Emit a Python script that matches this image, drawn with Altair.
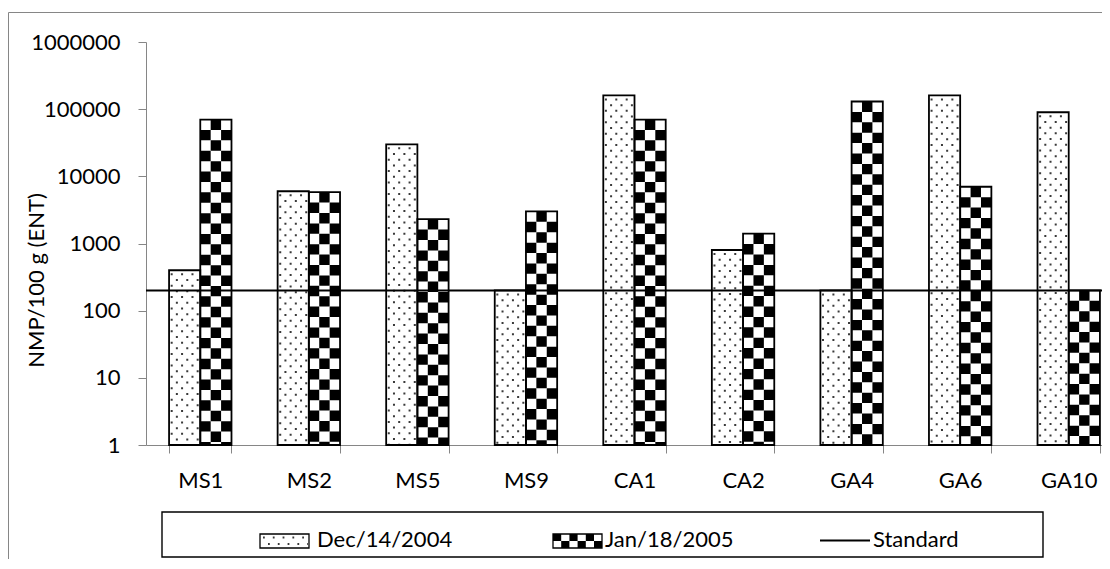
import altair as alt
import pandas as pd

categories = ["MS1", "MS2", "MS5", "MS9", "CA1", "CA2", "GA4", "GA6", "GA10"]
dec_values = [400, 6000, 30000, 200, 160000, 800, 200, 160000, 90000]
jan_values = [70000, 5800, 2300, 3000, 70000, 1400, 130000, 7000, 200]
series_names = ["Dec/14/2004", "Jan/18/2005"]
standard_values = [200]
y_ticks = [1, 10, 100, 1000, 10000, 100000, 1000000]
legend_labels = ["Dec/14/2004", "Jan/18/2005", "Standard"]

AXIS_GRAY = "#868686"
FONT = "Lato"
FS = 22

bars_df = pd.DataFrame({
    "cat": categories * 2,
    "series": [series_names[0]] * len(categories) + [series_names[1]] * len(categories),
    "value": dec_values + jan_values,
})

# pattern helper tables (one row per bar and pattern column)
dot_subs = [f"d{i}" for i in range(12)]
dot_rows = []
for c, v in zip(categories, dec_values):
    for i in range(6):
        dot_rows.append({"cat": c, "value": v, "sub": f"d{i}", "row": "A" if i % 2 == 0 else "B"})
dots_df = pd.DataFrame(dot_rows)

chk_subs = [f"c{i}" for i in range(6)]
chk_rows = []
for c, v in zip(categories, jan_values):
    for i in range(3):
        chk_rows.append({"cat": c, "value": v, "sub": f"c{i + 3}", "phase": "mid" if i == 1 else "side"})
chk_df = pd.DataFrame(chk_rows)

std_df = pd.DataFrame({"value": standard_values})
legend_df = pd.DataFrame({"label": legend_labels})

x_enc = alt.X(
    "cat:N",
    sort=categories,
    scale=alt.Scale(domain=categories, range=[0, 977], paddingInner=0.425, paddingOuter=0.2125),
    axis=alt.Axis(
        title=None, tickBand="extent", tickSize=8, tickColor=AXIS_GRAY, domainColor=AXIS_GRAY,
        labelAngle=0, labelFontSize=FS, labelFont=FONT, labelColor="black", labelPadding=17,
        grid=False,
    ),
)
y_enc = alt.Y(
    "value:Q",
    scale=alt.Scale(type="log", domain=[1, 1000000], nice=False),
    axis=alt.Axis(
        values=y_ticks, format="d", tickSize=8, tickColor=AXIS_GRAY, domainColor=AXIS_GRAY,
        labelFontSize=FS, labelFont=FONT, labelColor="black", labelPadding=18, grid=False,
        title="NMP/100 g (ENT)", titleFontSize=FS, titleFont=FONT, titleFontWeight="normal",
        titleColor="black", titleX=-110, titleY=238, titleAngle=270, titleAlign="center",
        titleBaseline="middle",
    ),
)
xo_series = alt.XOffset("series:N", scale=alt.Scale(domain=series_names, paddingInner=0, paddingOuter=0))
xo_dots = alt.XOffset("sub:N", scale=alt.Scale(domain=dot_subs, paddingInner=0, paddingOuter=0))
xo_chk = alt.XOffset("sub:N", scale=alt.Scale(domain=chk_subs, paddingInner=0, paddingOuter=0))

base_bars = alt.Chart(bars_df).mark_bar(fill="white", strokeWidth=0).encode(
    x=x_enc, xOffset=xo_series, y=y_enc, y2=alt.datum(1)
)

dots_a = alt.Chart(dots_df).transform_filter(alt.datum.row == "A").mark_rule(
    color="#3a3a3a", strokeWidth=2, strokeDash=[2, 9.4], strokeDashOffset=8.4
).encode(x=x_enc, xOffset=xo_dots, y=y_enc, y2=alt.datum(1))
dots_b = alt.Chart(dots_df).transform_filter(alt.datum.row == "B").mark_rule(
    color="#3a3a3a", strokeWidth=2, strokeDash=[2, 9.4], strokeDashOffset=2.7
).encode(x=x_enc, xOffset=xo_dots, y=y_enc, y2=alt.datum(1))

chk_side = alt.Chart(chk_df).transform_filter(alt.datum.phase == "side").mark_rule(
    color="black", strokeWidth=10.4, strokeDash=[10.4, 10.4], strokeDashOffset=10.4
).encode(x=x_enc, xOffset=xo_chk, y=y_enc, y2=alt.datum(1))
chk_mid = alt.Chart(chk_df).transform_filter(alt.datum.phase == "mid").mark_rule(
    color="black", strokeWidth=10.4, strokeDash=[10.4, 10.4], strokeDashOffset=0
).encode(x=x_enc, xOffset=xo_chk, y=y_enc, y2=alt.datum(1))

outline = alt.Chart(bars_df).mark_bar(fill="transparent", stroke="black", strokeWidth=1.8).encode(
    x=x_enc, xOffset=xo_series, y=y_enc, y2=alt.datum(1)
)

std_rule = alt.Chart(std_df).mark_rule(color="black", strokeWidth=2).encode(y=y_enc)

# ---- legend (drawn below the plot, inside a framed box) ----
lg = alt.Chart(legend_df)

def one(label):
    return lg.transform_filter(alt.datum.label == label)

lg_box = one(legend_labels[2]).mark_rect(
    fill="white", stroke="black", strokeWidth=1.4
).encode(x=alt.value(16), x2=alt.value(897), y=alt.value(470), y2=alt.value(515))

lg_dec_sw = one(legend_labels[0]).mark_rect(fill="white", stroke="black", strokeWidth=1.3).encode(
    x=alt.value(114), x2=alt.value(163), y=alt.value(492), y2=alt.value(506))
lg_dec_d1 = one(legend_labels[0]).mark_rule(color="#3a3a3a", strokeWidth=1.8, strokeDash=[1.8, 8]).encode(
    x=alt.value(117), x2=alt.value(162), y=alt.value(495.5))
lg_dec_d2 = one(legend_labels[0]).mark_rule(color="#3a3a3a", strokeWidth=1.8, strokeDash=[1.8, 8]).encode(
    x=alt.value(122), x2=alt.value(162), y=alt.value(502))
lg_dec_tx = one(legend_labels[0]).mark_text(align="left", baseline="middle", fontSize=FS, font=FONT, color="black").encode(
    x=alt.value(171), y=alt.value(498), text="label:N")

lg_jan_sw = one(legend_labels[1]).mark_rect(fill="white", stroke="black", strokeWidth=1.3).encode(
    x=alt.value(407), x2=alt.value(456), y=alt.value(492), y2=alt.value(506))
lg_jan_r1 = one(legend_labels[1]).mark_rule(color="black", strokeWidth=7, strokeDash=[8.2, 8.2]).encode(
    x=alt.value(407), x2=alt.value(456), y=alt.value(495.5))
lg_jan_r2 = one(legend_labels[1]).mark_rule(color="black", strokeWidth=7, strokeDash=[8.2, 8.2], strokeDashOffset=8.2).encode(
    x=alt.value(407), x2=alt.value(456), y=alt.value(502.5))
lg_jan_tx = one(legend_labels[1]).mark_text(align="left", baseline="middle", fontSize=FS, font=FONT, color="black").encode(
    x=alt.value(459), y=alt.value(498), text="label:N")

lg_std_ln = one(legend_labels[2]).mark_rule(color="black", strokeWidth=2).encode(
    x=alt.value(674), x2=alt.value(724), y=alt.value(498.5))
lg_std_tx = one(legend_labels[2]).mark_text(align="left", baseline="middle", fontSize=FS, font=FONT, color="black").encode(
    x=alt.value(727), y=alt.value(498), text="label:N")

# outer chart frame (cropped at right and bottom like the reference)
frame_top = one(legend_labels[2]).mark_rule(color=AXIS_GRAY, strokeWidth=1).encode(
    x=alt.value(-137.5), x2=alt.value(980), y=alt.value(-29.5))
frame_left = one(legend_labels[2]).mark_rule(color=AXIS_GRAY, strokeWidth=1).encode(
    x=alt.value(-137.5), y=alt.value(-29.5), y2=alt.value(560))

chart = alt.layer(
    base_bars, dots_a, dots_b, chk_side, chk_mid, outline, std_rule,
    lg_box, lg_dec_sw, lg_dec_d1, lg_dec_d2, lg_dec_tx,
    lg_jan_sw, lg_jan_r1, lg_jan_r2, lg_jan_tx, lg_std_ln, lg_std_tx,
    frame_top, frame_left,
).resolve_scale(
    xOffset="independent"
).properties(
    width=956,
    height=403,
    padding={"left": 138, "top": 34, "right": 0, "bottom": 114},
    autosize=alt.AutoSizeParams(type="none"),
    background="white",
).configure_view(
    strokeWidth=0
).configure_axis(
    labelFont=FONT, titleFont=FONT
)

chart.save("out.html", embed_options={"renderer": "svg", "actions": False})
